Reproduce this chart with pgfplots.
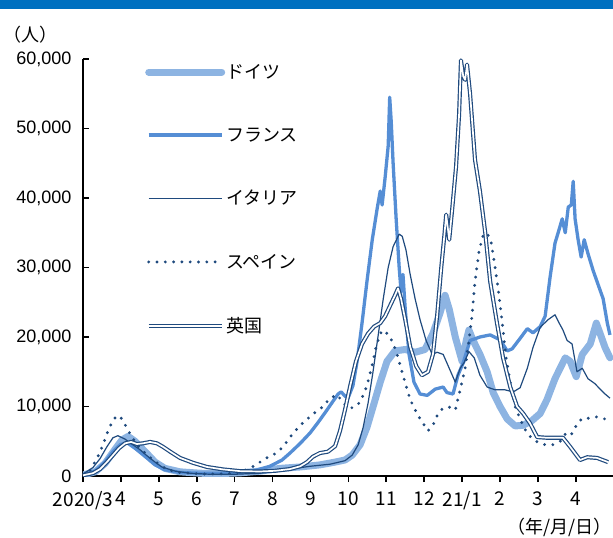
\documentclass[border=0pt]{standalone}
\usepackage{fontspec}
\setmainfont{Liberation Sans}
\newfontfamily\jp{Noto Sans CJK JP}
\usepackage{pgfplots}
\pgfplotsset{compat=1.18}

\definecolor{topbar}{HTML}{0070C0}
\definecolor{deu}{HTML}{8DB4E2}
\definecolor{fra}{HTML}{558ED5}
\definecolor{navy}{HTML}{1F4A7E}

\begin{document}
\begin{tikzpicture}[x=1pt,y=1pt]
\begin{axis}[
  scale only axis,
  width=530pt, height=417pt,
  at={(0,0)}, anchor=south west,
  xmin=0, xmax=13.98,
  ymin=0, ymax=60000,
  axis lines=left,
  axis line style={line width=1.6pt, -},
  clip=true,
  line join=round,
  xtick={0,1,...,13},
  xticklabels={2020/3,4,5,6,7,8,9,10,11,12,21/1,2,3,4},
  x tick label style={font=\jp\fontsize{19}{19}\selectfont, yshift=-6pt},
  ytick={0,10000,...,60000},
  y tick label style={font=\fontsize{18}{18}\selectfont, xshift=-8pt,
    /pgf/number format/1000 sep={,}, /pgf/number format/assume math mode=true},
  scaled y ticks=false,
  x tick style={line width=1.6pt, black},
  y tick style={line width=1.6pt, black},
  xtick align=outside, ytick align=inside,
  major tick length=6pt,
  tick label style={black},
  legend style={
    at={(rel axis cs:0.117,0.99)}, anchor=north west,
    draw=none, fill=none, inner sep=0pt,
    font=\jp\fontsize{18}{18}\selectfont,
    row sep=45.7pt, column sep=0pt,
    nodes={inner sep=1pt, anchor=west},
  },
  legend cell align=left,
  legend image code/.code={\draw[#1] (0pt,0pt) -- (73pt,0pt);},
]

% Germany
\addplot[deu, line width=7pt, line cap=round] coordinates {
(0,150) (0.32,600) (0.58,1800) (0.84,3800) (1.03,5200) (1.19,5700) (1.37,5000)
(1.64,3500) (1.90,2000) (2.16,1100) (2.56,600) (3.09,400) (3.61,350) (4.14,450)
(4.67,700) (5.20,1100) (5.73,1300) (6.25,1600) (6.65,2000) (6.91,2300) (7.10,3000)
(7.31,4500) (7.49,7000) (7.68,10500) (7.84,13500) (8.02,16500) (8.23,18000)
(8.50,18200) (8.76,17800) (9.02,18200) (9.23,20500) (9.42,23500) (9.55,26000)
(9.66,24000) (9.82,20000) (10.00,16500) (10.11,19500) (10.18,21000) (10.29,19500)
(10.47,17500) (10.66,15000) (10.82,12000) (11.00,10000) (11.19,8200) (11.40,7200)
(11.61,7300) (11.85,8000) (12.06,9000) (12.24,11000) (12.45,14000) (12.72,17000)
(12.85,16500) (13.01,14300) (13.17,17500) (13.38,19000) (13.54,22000) (13.64,20500)
(13.77,18500) (13.90,17000)
};
\addlegendentry{ドイツ}

% France
\addplot[fra, line width=3.3pt] coordinates {
(0,200) (0.32,700) (0.58,2000) (0.79,3500) (0.98,4500) (1.16,4800) (1.37,4000)
(1.64,2800) (1.90,1600) (2.16,900) (2.56,500) (3.09,400) (3.61,400) (4.14,500)
(4.54,800) (4.93,1400) (5.25,2300) (5.46,3300) (5.73,4700) (5.99,6200) (6.20,7700)
(6.41,9300) (6.60,10800) (6.73,11800) (6.81,12100) (6.91,11500) (6.99,11200)
(7.12,13000) (7.23,16500) (7.36,22000) (7.49,28000) (7.63,34000) (7.76,38500)
(7.84,41000) (7.89,39000) (7.97,43000) (8.05,47500) (8.09,54500) (8.13,51000)
(8.18,45000) (8.26,37000) (8.34,30000) (8.39,26500) (8.44,29000) (8.50,24000)
(8.60,17500) (8.73,13500) (8.89,11800) (9.08,11600) (9.29,12500) (9.50,12800)
(9.60,12000) (9.76,11800) (9.89,14500) (10.03,16300) (10.21,19500) (10.47,20000)
(10.74,20300) (11.00,19600) (11.19,18000) (11.32,18300) (11.53,19800) (11.72,21200)
(11.87,20600) (12.06,21500) (12.19,23000) (12.32,28600) (12.45,33500) (12.56,35500)
(12.64,37000) (12.72,35000) (12.80,38700) (12.88,39000) (12.93,42400) (12.98,37000)
(13.06,34000) (13.14,31500) (13.22,34000) (13.32,32000) (13.46,29500) (13.59,27500)
(13.72,25500) (13.83,22000) (13.90,20300)
};
\addlegendentry{フランス}

% Italy
\addplot[navy, line width=1.2pt] coordinates {
(0,300) (0.26,1200) (0.45,2500) (0.63,4200) (0.79,5500) (0.92,5800) (1.11,5300)
(1.29,4600) (1.50,3800) (1.69,2900) (1.90,2000) (2.08,1300) (2.43,700) (2.82,400)
(3.35,250) (4.01,250) (4.67,400) (5.33,900) (5.99,1400) (6.52,1700) (6.91,2200)
(7.10,3000) (7.26,4500) (7.39,7000) (7.52,10500) (7.65,15000) (7.78,20000)
(7.92,25500) (8.05,30000) (8.18,33000) (8.34,34800) (8.42,34500) (8.52,32500)
(8.63,29000) (8.76,25500) (8.89,22500) (9.05,19500) (9.21,17500) (9.34,17800)
(9.50,17500) (9.66,15500) (9.82,13500) (9.95,15500) (10.05,16300) (10.18,17900)
(10.32,17000) (10.47,14500) (10.66,12800) (10.87,12400) (11.13,12400) (11.35,12100)
(11.53,12700) (11.72,15500) (11.87,18500) (12.06,21400) (12.27,22500) (12.45,23200)
(12.56,22000) (12.66,21000) (12.77,19500) (12.90,19000) (13.03,15000) (13.17,15500)
(13.32,14000) (13.50,13300) (13.64,12500) (13.77,11800) (13.90,11200)
};
\addlegendentry{イタリア}

% Spain
\addplot[navy, line width=3.2pt, line cap=round, dash pattern=on 0pt off 8.3pt] coordinates {
(0,200) (0.18,800) (0.37,2500) (0.53,4500) (0.66,6500) (0.79,8000) (0.90,8700)
(1.00,8400) (1.13,7200) (1.27,5800) (1.45,4300) (1.69,3000) (1.95,1900) (2.22,900)
(2.56,500) (3.09,300) (3.61,300) (4.01,400) (4.27,800) (4.54,1500) (4.80,2500)
(5.07,3200) (5.28,4200) (5.46,5600) (5.73,7300) (6.04,8800) (6.31,9900) (6.52,11200)
(6.70,11700) (6.83,10800) (6.97,9900) (7.12,9800) (7.31,10600) (7.49,13000)
(7.63,16000) (7.73,18500) (7.84,20500) (7.94,21000) (8.10,20000) (8.26,18000)
(8.39,15500) (8.52,13000) (8.63,11000) (8.79,9200) (8.94,7800) (9.10,6500)
(9.23,7300) (9.37,9000) (9.50,9800) (9.68,9900) (9.82,9500) (9.95,12400)
(10.08,15500) (10.18,19500) (10.26,23000) (10.34,28000) (10.45,32500) (10.55,34500)
(10.66,35000) (10.77,33500) (10.87,30000) (10.95,27000) (11.06,22000) (11.16,17000)
(11.27,13500) (11.40,10000) (11.53,8200) (11.66,6700) (11.79,5700) (11.98,4900)
(12.19,4500) (12.40,4500) (12.59,5000) (12.72,6000) (12.82,5700) (12.93,6300)
(13.03,7500) (13.17,8300) (13.38,8300) (13.54,8500) (13.77,8200) (13.88,8100)
};
\addlegendentry{スペイン}

% United Kingdom
\addplot[navy, line width=1.2pt, double=white, double distance=1.7pt] coordinates {
(0,100) (0.26,400) (0.45,1000) (0.63,2000) (0.79,3000) (0.95,4000) (1.11,4700)
(1.27,4900) (1.42,4600) (1.58,4700) (1.77,4900) (1.95,4700) (2.11,4200) (2.30,3500)
(2.56,2600) (2.90,1900) (3.27,1300) (3.69,950) (4.14,700) (4.67,650) (5.07,750)
(5.46,1000) (5.73,1400) (5.91,2000) (6.07,2800) (6.25,3300) (6.46,3500) (6.65,4300)
(6.78,6500) (6.91,9500) (7.05,13000) (7.20,16500) (7.36,19000) (7.52,20500)
(7.68,21500) (7.84,22000) (7.97,23000) (8.10,24500) (8.23,26000) (8.31,27000)
(8.39,25500) (8.50,22500) (8.63,18600) (8.79,15800) (8.94,14500) (9.10,15000)
(9.23,17500) (9.34,23000) (9.45,30000) (9.53,34500) (9.58,37600) (9.66,34000)
(9.74,38500) (9.84,44500) (9.92,52000) (9.97,59800) (10.03,57500) (10.08,57000)
(10.13,59200) (10.21,55000) (10.34,45500) (10.47,41000) (10.61,35000) (10.74,28000)
(10.92,22000) (11.08,17000) (11.27,12800) (11.45,10000) (11.61,9000) (11.79,7600)
(11.98,5600) (12.24,5500) (12.66,5500) (12.85,4200) (13.11,2300) (13.30,2700)
(13.56,2600) (13.85,2000)
};
\addlegendentry{英国}
\end{axis}

% heading rule and unit captions
\fill[topbar] (-83pt,467.4pt) rectangle (530pt,476pt);
\node[font=\jp\fontsize{18}{18}\selectfont, anchor=west, inner sep=0pt] at (-80pt,441pt) {（人）};
\node[font=\jp\fontsize{18}{18}\selectfont, anchor=east, inner sep=0pt] at (529pt,-51pt) {（年/月/日）};

\pgfresetboundingbox
\path (-83pt,-62pt) rectangle (530pt,476pt);
\end{tikzpicture}
\end{document}
